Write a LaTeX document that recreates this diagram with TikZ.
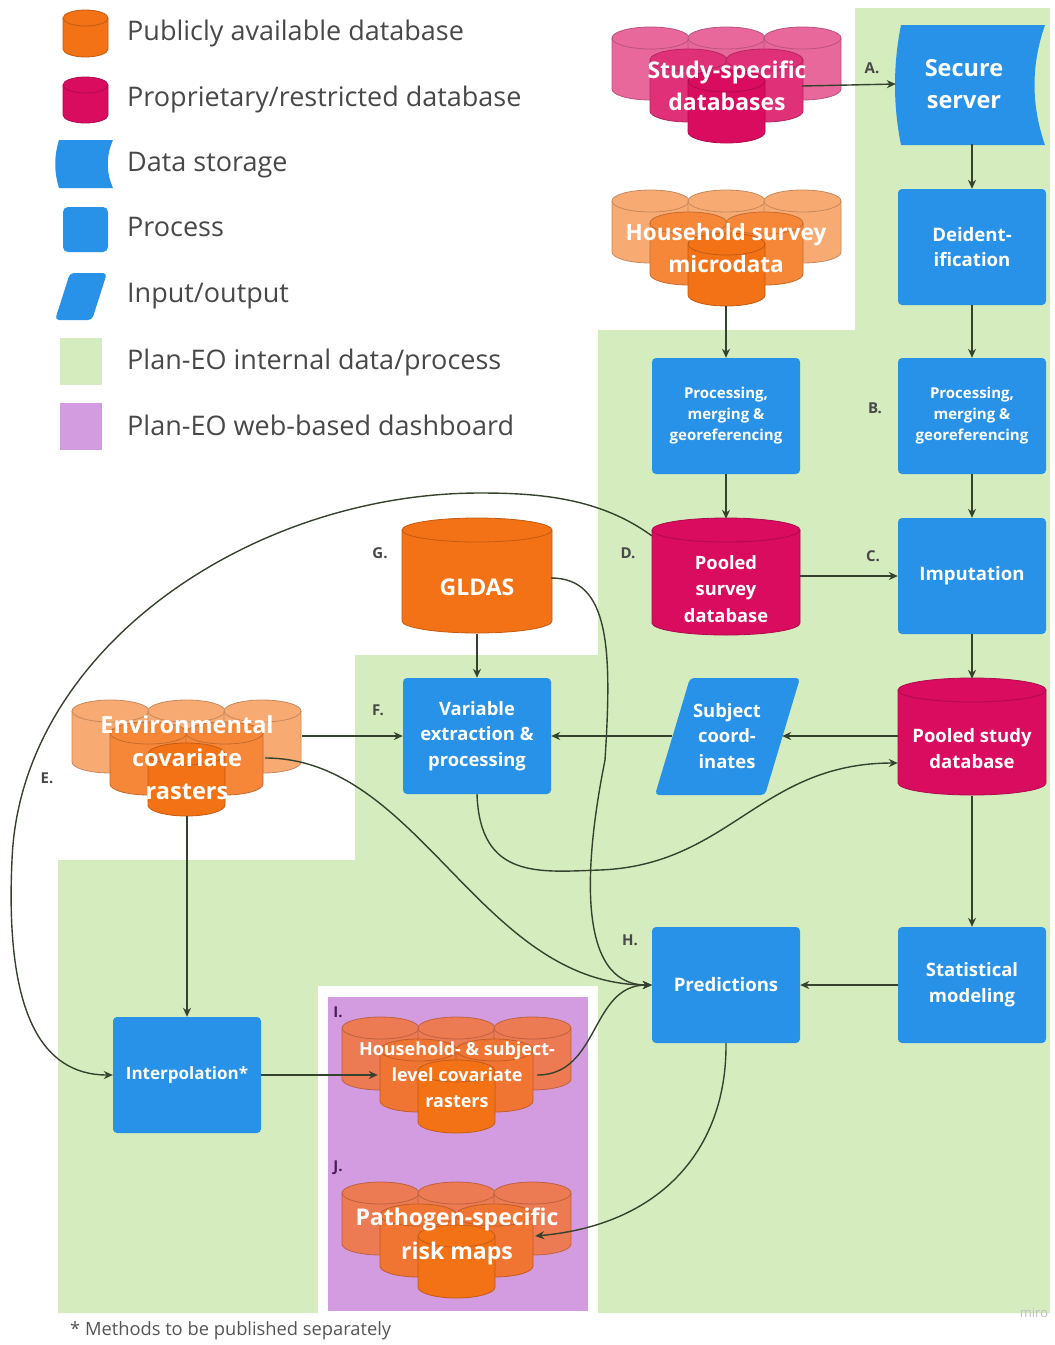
\documentclass[tikz,border=0pt]{standalone}
\usepackage{fontspec}
\setmainfont{Open Sans}
\usetikzlibrary{arrows.meta}

\definecolor{procblue}{RGB}{40,146,232}
\definecolor{pubor}{RGB}{244,114,22}
\definecolor{propmag}{RGB}{218,12,96}
\definecolor{intgreen}{RGB}{212,236,190}
\definecolor{dashpurple}{RGB}{212,156,224}
\definecolor{linkcol}{RGB}{52,66,46}
\definecolor{legtext}{RGB}{72,72,72}
\colorlet{magback}{propmag!62}
\colorlet{magmid}{propmag!85}
\colorlet{orback}{pubor!60}
\colorlet{ormid}{pubor!85}
\definecolor{salback}{RGB}{236,122,82}
\definecolor{salmid}{RGB}{240,116,50}

% one cylinder: top left (#1,#2), size #3 x #4, lid radius #5, colour #6
\newcommand\cyl[6]{%
  \pgfmathsetmacro\rx{(#3)/2}%
  \filldraw[fill=#6, draw=#6!80!black, line width=0.8pt]
    (#1,#2+#5) -- (#1,#2+#4-#5)
    arc[start angle=180, end angle=0, x radius=\rx, y radius=#5]
    -- (#1+#3,#2+#5)
    arc[start angle=0, end angle=-180, x radius=\rx, y radius=#5] -- cycle;
  \draw[draw=#6!80!black, line width=0.8pt] (#1,#2+#5)
    arc[start angle=180, end angle=0, x radius=\rx, y radius=#5];
}
% six cylinders piled up: top left (#1,#2), colours back, middle, front
\newcommand\dbpile[5]{%
  \foreach \dx/\dy/\tint in {0/0/#3, 76/0/#3, 152/0/#3, 38/22/#4, 114/22/#4, 76/43/#5}
    {\cyl{#1+\dx}{#2+\dy}{77}{73}{11}{\tint}}
}
% stored data shape: corners (#1,#2) (#3,#4), left bow #5, right bow #6
\newcommand\storage[6]{%
  \fill[procblue] (#1,#2) -- (#3,#2)
    .. controls (#3-#6,{(2*#2+#4)/3}) and (#3-#6,{(#2+2*#4)/3}) .. (#3,#4)
    -- (#1,#4)
    .. controls (#1-#5,{(#2+2*#4)/3}) and (#1-#5,{(2*#2+#4)/3}) .. (#1,#2) -- cycle;
}

\begin{document}
\begin{tikzpicture}[x=1pt,y=-1pt]
\tikzset{
    proc/.style={rectangle, rounded corners=4pt, fill=procblue, text=white,
        minimum width=148, minimum height=116, align=center, inner sep=2pt},
    dbtext/.style={rectangle, text=white, align=center,
        minimum width=148, minimum height=94, inner sep=0pt},
    piletext/.style={rectangle, text=white, align=center,
        minimum width=230, minimum height=116, inner sep=0pt},
    tsize/.style 2 args={font=\bfseries\fontsize{#1}{#2}\selectfont},
    link/.style={draw=linkcol, line width=1.4pt, -{Stealth[length=9pt,width=8pt]}},
    letter/.style={font=\bfseries\fontsize{15}{17}\selectfont, text=legtext},
    legend text/.style={anchor=west, inner sep=0pt, text=legtext,
        font=\fontsize{27}{30}\selectfont}}
\useasboundingbox (0,0) rectangle (1055,1345);

% regions
\fill[intgreen] (855,8) -- (1050,8) -- (1050,1313) -- (58,1313) -- (58,860)
    -- (355,860) -- (355,655) -- (598,655) -- (598,330) -- (855,330) -- cycle;
\fill[white] (318,986) rectangle (598,1314);
\fill[dashpurple] (328,997) rectangle (588,1311);

% legend
\cyl{63}{10}{45}{47}{8}{pubor}
\cyl{63}{77}{45}{46}{8}{propmag}
\storage{59}{140}{113}{188}{5}{7}
\fill[procblue, rounded corners=5pt] (63,207) rectangle (108,252);
\fill[procblue, rounded corners=4pt] (70,273) -- (107,273) -- (92,320) -- (55,320) -- cycle;
\fill[intgreen] (60,338) rectangle (102,385);
\fill[dashpurple] (60,403) rectangle (102,450);
\node[legend text] (leg1) at (127,33) {Publicly available database};
\node[legend text] (leg2) at (127,99) {Proprietary/restricted database};
\node[legend text] (leg3) at (127,165) {Data storage};
\node[legend text] (leg4) at (127,227) {Process};
\node[legend text] (leg5) at (127,296) {Input/output};
\node[legend text] (leg6) at (127,362) {Plan-EO internal data/process};
\node[legend text] (leg7) at (127,425) {Plan-EO web-based dashboard};

% databases
\dbpile{612}{27}{magback}{magmid}{propmag}
\dbpile{612}{190}{orback}{ormid}{pubor}
\dbpile{72}{700}{orback}{ormid}{pubor}
\dbpile{342}{1017}{salback}{salmid}{pubor}
\dbpile{342}{1182}{salback}{salmid}{pubor}
\cyl{652}{518}{148}{117}{12}{propmag}
\cyl{402}{518}{150}{115}{12}{pubor}
\cyl{898}{678}{148}{117}{12}{propmag}
\storage{901}{25}{1045}{145}{8}{14}
\fill[procblue, rounded corners=4pt] (690,678) -- (800,678) -- (765,795) -- (655,795) -- cycle;

\node[piletext, tsize={23}{32}] (study) at (727,86) {Study-specific\\databases};
\node[piletext, tsize={22.5}{32}] (hhsurvey) at (726,248) {Household survey\\microdata};
\node[piletext, tsize={23.5}{33}] (envcov) at (187,758) {Environmental\\covariate\\rasters};
\node[piletext, tsize={18}{26}] (hhlevel) at (457,1075) {Household- \& subject-\\level covariate\\rasters};
\node[piletext, tsize={23}{34}] (riskmap) at (457,1236) {Pathogen-specific\\risk maps};
\node[dbtext, tsize={18.3}{26.5}] (poolsurv) at (726,589) {Pooled\\survey\\database};
\node[dbtext, tsize={23}{26}] (gldas) at (477,587) {GLDAS};
\node[dbtext, tsize={18.5}{26}] (poolstudy) at (972,749) {Pooled study\\database};
\node[rectangle, text=white, align=center, minimum width=136, minimum height=120,
    tsize={23.5}{32}] (secure) at (964,84) {Secure\\server};
\node[rectangle, text=white, align=center, minimum width=110, minimum height=116,
    tsize={18.4}{25.5}] (subj) at (727,736) {Subject\\coord-\\inates};

% processes
\node[proc, tsize={18.6}{25}] (deident) at (972,247) {Deident-\\ification};
\node[proc, tsize={15}{21}] (procL) at (726,416) {Processing,\\merging \&\\georeferencing};
\node[proc, tsize={15}{21}] (procB) at (972,416) {Processing,\\merging \&\\georeferencing};
\node[proc, tsize={18.6}{25}] (imput) at (972,576) {Imputation};
\node[proc, tsize={18.4}{25.5}] (varext) at (477,736) {Variable\\extraction \&\\processing};
\node[proc, tsize={18.6}{26}] (predict) at (726,985) {Predictions};
\node[proc, tsize={18.5}{26}] (statmod) at (972,985) {Statistical\\modeling};
\node[proc, tsize={17}{20}] (interp) at (187,1075) {Interpolation*};

% connectors
\draw[link] ([xshift=-40pt]study.east) -- (secure.west);
\draw[link] (secure.south -| deident.north) -- (deident);
\draw[link] (deident) -- (procB);
\draw[link] (hhsurvey) -- (procL);
\draw[link] (procL) -- ([yshift=23pt]poolsurv.north);
\draw[link] (procB) -- (imput);
\draw[link] (poolsurv.east |- imput.west) -- (imput.west);
\draw[link] (imput) -- ([yshift=23pt]poolstudy.north);
\draw[link] (poolstudy.west |- subj.east) -- (subj.east);
\draw[link] (subj.west) -- (varext.east);
\draw[link] (envcov.east |- varext.west) -- (varext.west);
\draw[link] (gldas) -- (varext);
\draw[link] (varext.south) .. controls (480,880) and (540,872) .. (600,870)
    .. controls (730,865) and (760,763) .. ([yshift=-14pt]poolstudy.west);
\draw[link] ([yshift=6pt]poolsurv.north west) .. controls (600,498) and (540,493) .. (480,493)
    .. controls (250,493) and (20,650) .. (12,860)
    .. controls (5,1010) and (40,1075) .. (interp.west);
\draw[link] (envcov.south) -- (interp);
\draw[link] ([yshift=9pt]gldas.east) .. controls (610,578) and (612,650) .. (605,760)
    .. controls (585,860) and (575,985) .. (predict.west);
\draw[link] ([xshift=-37pt]envcov.east) .. controls (420,758) and (480,985) .. (predict.west);
\draw[link] ([xshift=-35pt]hhlevel.east) .. controls (600,1075) and (590,985) .. (predict.west);
\draw[link] (poolstudy.south) -- (statmod);
\draw[link] (statmod) -- (predict);
\draw[link] (interp.east) -- ([xshift=36pt]hhlevel.west);
\draw[link] (predict.south) .. controls (727,1150) and (660,1225) .. ([xshift=-37pt]riskmap.east);

% step letters
\node[letter] (lblA) at (872,68) {A.};
\node[letter] (lblB) at (875,408) {B.};
\node[letter] (lblC) at (873,556) {C.};
\node[letter] (lblD) at (628,553) {D.};
\node[letter] (lblE) at (47,778) {E.};
\node[letter] (lblF) at (378,710) {F.};
\node[letter] (lblG) at (380,553) {G.};
\node[letter] (lblH) at (630,940) {H.};
\node[letter, text={rgb,255:red,72;green,30;blue,84}] (lblI) at (338,1012) {I.};
\node[letter, text={rgb,255:red,72;green,30;blue,84}] (lblJ) at (338,1168) {J.};

\node[anchor=west, inner sep=0pt, text={rgb,255:red,85;green,85;blue,85},
    font=\fontsize{18.3}{21}\selectfont] (note) at (70,1331) {* Methods to be published separately};
\node[inner sep=0pt, text=black!25, font=\fontsize{13}{15}\selectfont] (miro) at (1034,1313) {miro};
\end{tikzpicture}
\end{document}
